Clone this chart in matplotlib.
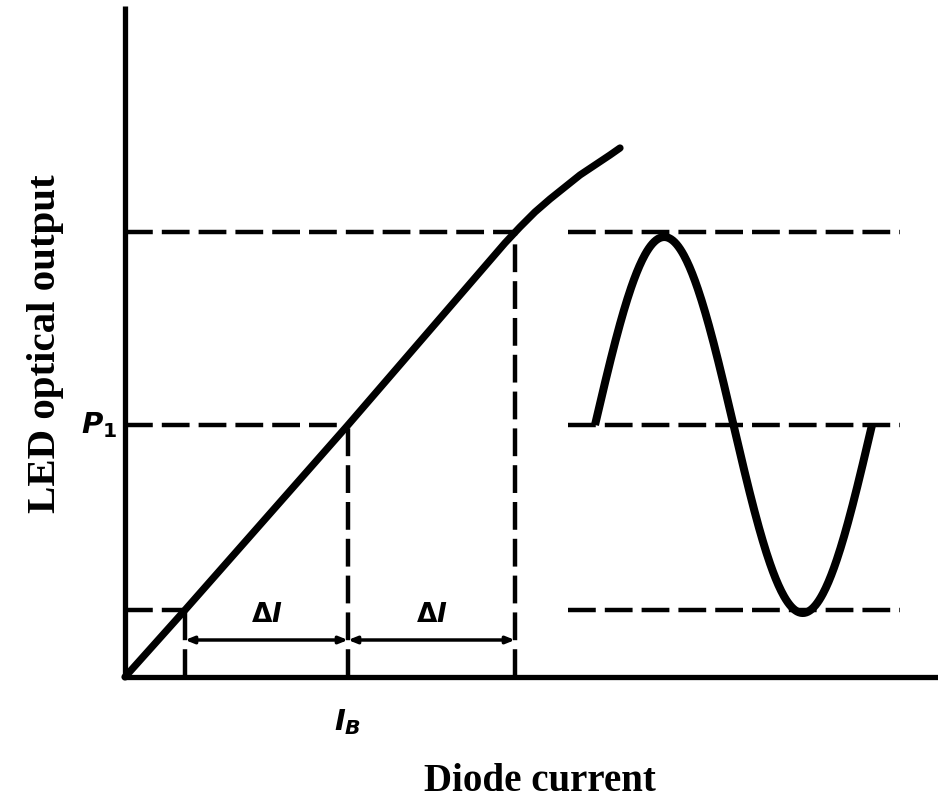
import numpy as np
import matplotlib
matplotlib.use("Agg")
import matplotlib.pyplot as plt

plt.rcParams['mathtext.fontset'] = 'custom'
plt.rcParams['mathtext.it'] = 'DejaVu Sans:bold:italic'
plt.rcParams['mathtext.rm'] = 'DejaVu Sans:bold'
plt.rcParams['mathtext.bf'] = 'DejaVu Sans:bold'
plt.rcParams['lines.scale_dashes'] = False

# ---- data (diagram units, origin at axis corner) ----
curve_x = [0, 60, 223, 380, 395, 410, 425, 440, 455, 470, 485, 495]
curve_y = [0, 67, 252, 434, 450, 465, 478, 490, 502, 512, 522, 529]

I_low, I_B, I_high = 60, 223, 390          # current levels
P_low, P_1, P_high = 67, 252, 445          # optical output levels

axis_x_max = 813
axis_y_max = 671

# sine (modulated optical output)
sine_start, sine_period = 470, 277
sine_center, sine_amp = 252, 188
right_dash_x = [443, 775]

labels = {"P": r"$P_1$", "IB": r"$I_B$", "dI": r"$\Delta I$"}
xlabel = "Diode current"
ylabel = "LED optical output"

ox, oy = 125, 677  # pixel position of origin
fig = plt.figure(figsize=(9.38, 8.02), dpi=100)
ax = fig.add_axes([0, 0, 1, 1])
ax.set_xlim(-ox, 938 - ox)
ax.set_ylim(-(802 - oy), oy)
ax.axis('off')

k = 'black'
# axes
ax.plot([0, 0], [0, axis_y_max], color=k, lw=3.8, solid_capstyle='butt')
ax.plot([0, axis_x_max], [0, 0], color=k, lw=3.8, solid_capstyle='butt')

# LED curve
ax.plot(curve_x, curve_y, color=k, lw=5.2, solid_capstyle='round', solid_joinstyle='round')

dash = (0, (20, 6.5))
dlw = 3.2
# horizontal dashed (left)
for (xe, yv) in [(I_low, P_low), (I_B, P_1), (I_high, P_high)]:
    ax.plot([0, xe], [yv, yv], color=k, lw=dlw, linestyle=dash)
    ax.plot([xe, xe], [0, yv], color=k, lw=dlw, linestyle=dash)
# horizontal dashed (right)
for yv in [P_low, P_1, P_high]:
    ax.plot(right_dash_x, [yv, yv], color=k, lw=dlw, linestyle=dash)

# sine
t = np.linspace(0, 1, 300)
sx = sine_start + t * sine_period
sy = sine_center + sine_amp * np.sin(2 * np.pi * t)
ax.plot(sx, sy, color=k, lw=5.8, solid_capstyle='butt')

# delta I arrows
ay = 37
for a, b in [(I_low, I_B), (I_B, I_high)]:
    ax.annotate('', xy=(b, ay), xytext=(a, ay),
                arrowprops=dict(arrowstyle='<|-|>,head_length=0.5,head_width=0.2',
                                color=k, lw=2.5, shrinkA=0, shrinkB=0))
    ax.text((a + b) / 2, ay + 12, labels["dI"], fontsize=19, ha='center', va='bottom')

ax.text(-8, P_1, labels["P"], fontsize=21, ha='right', va='center')
ax.text(I_B, -30, labels["IB"], fontsize=21, ha='center', va='top')

ax.text(415, -114, xlabel, fontsize=28, family='Liberation Serif', weight='bold',
        ha='center', va='baseline')
ax.text(-80, 333, ylabel, fontsize=29.5, family='Liberation Serif', weight='bold',
        ha='center', va='center', rotation=90)

fig.savefig('out.png', dpi=100, facecolor='white')
